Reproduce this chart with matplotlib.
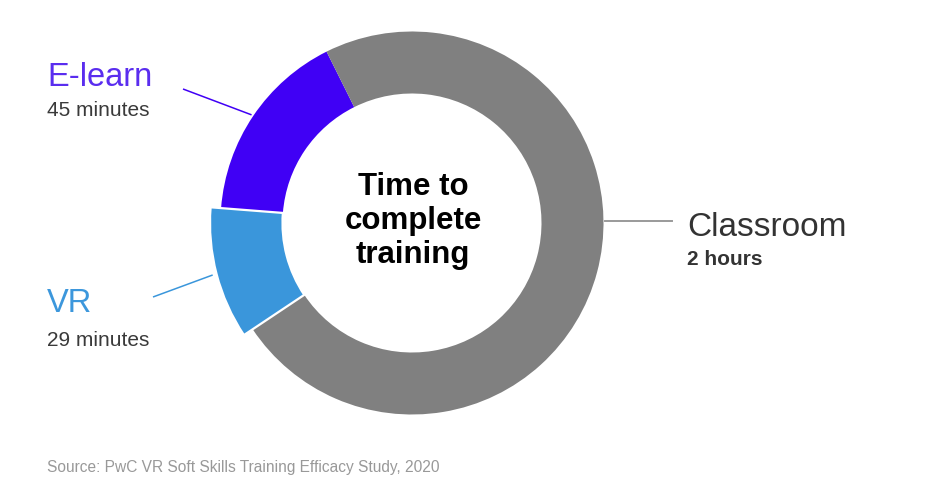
import matplotlib
matplotlib.use('Agg')
import matplotlib.pyplot as plt
import numpy as np

plt.rcParams['font.family'] = ['Liberation Sans', 'DejaVu Sans']

# ---- data ----
categories = ['E-learn', 'VR', 'Classroom']
arc_share = [16.4, 10.6, 73.0]          # share of the ring, percent (as drawn)
durations = ['45 minutes', '29 minutes', '2 hours']
colors = ['#4000F5', '#3A96DB', '#808080']
label_colors = ['#5A2DEF', '#3C97DC', '#333333']
center_title = 'Time to\ncomplete\ntraining'
source_text = 'Source: PwC VR Soft Skills Training Efficacy Study, 2020'

W, H = 932, 502
fig = plt.figure(figsize=(W / 100, H / 100), dpi=100)
ax = fig.add_axes([0, 0, 1, 1])


def fy(y):
    return H - y


cx, cy = 412, fy(224)
r_out, r_in = 191.5, 129.5

wedges, _ = ax.pie(arc_share, colors=colors, startangle=116.5, counterclock=True,
                   radius=r_out, center=(cx, cy),
                   wedgeprops=dict(width=r_out - r_in, linewidth=0))
# VR wedge highlighted: slightly larger outer radius, white outline
vr = wedges[1]
vr.set_radius(202)
vr.set_width(202 - r_in)
vr.set_edgecolor('white')
vr.set_linewidth(1.6)
vr.set_zorder(3)

ax.set_xlim(0, W)
ax.set_ylim(0, H)
ax.set_aspect('equal')
ax.axis('off')

# leader lines
def mid_point(w, r):
    a = np.deg2rad((w.theta1 + w.theta2) / 2)
    return cx + r * np.cos(a), cy + r * np.sin(a)

ex, ey = mid_point(wedges[0], r_out + 2)
ax.plot([183, ex], [fy(90), ey], color=colors[0], lw=1.1, zorder=1, solid_capstyle='butt')
vx, vy = mid_point(wedges[1], 206)
ax.plot([153, vx], [fy(298), vy], color=colors[1], lw=1.1, zorder=1, solid_capstyle='butt')
ax.plot([cx + r_out + 1, 672], [cy + 2, cy + 2], color='#9a9a9a', lw=1.4, zorder=1)

# labels
ax.text(47, fy(86), categories[0], fontsize=23.5, color=label_colors[0], va='baseline', ha='left')
ax.text(47, fy(116), durations[0], fontsize=15, color='#3a3a3a', va='baseline', ha='left')
ax.text(47, fy(312), categories[1], fontsize=23.5, color=label_colors[1], va='baseline', ha='left')
ax.text(47, fy(346), durations[1], fontsize=15, color='#3a3a3a', va='baseline', ha='left')
ax.text(687, fy(236), categories[2], fontsize=24, color=label_colors[2], va='baseline', ha='left')
ax.text(687, fy(265), durations[2], fontsize=15, fontweight='bold', color='#333333',
        va='baseline', ha='left')

ax.text(413, fy(221), center_title, fontsize=22.5, fontweight='bold', color='black',
        ha='center', va='center', linespacing=1.17)

ax.text(47, fy(472), source_text, fontsize=11.2, color='#999999', va='baseline', ha='left')

fig.savefig('out.png', dpi=100, facecolor='white')
